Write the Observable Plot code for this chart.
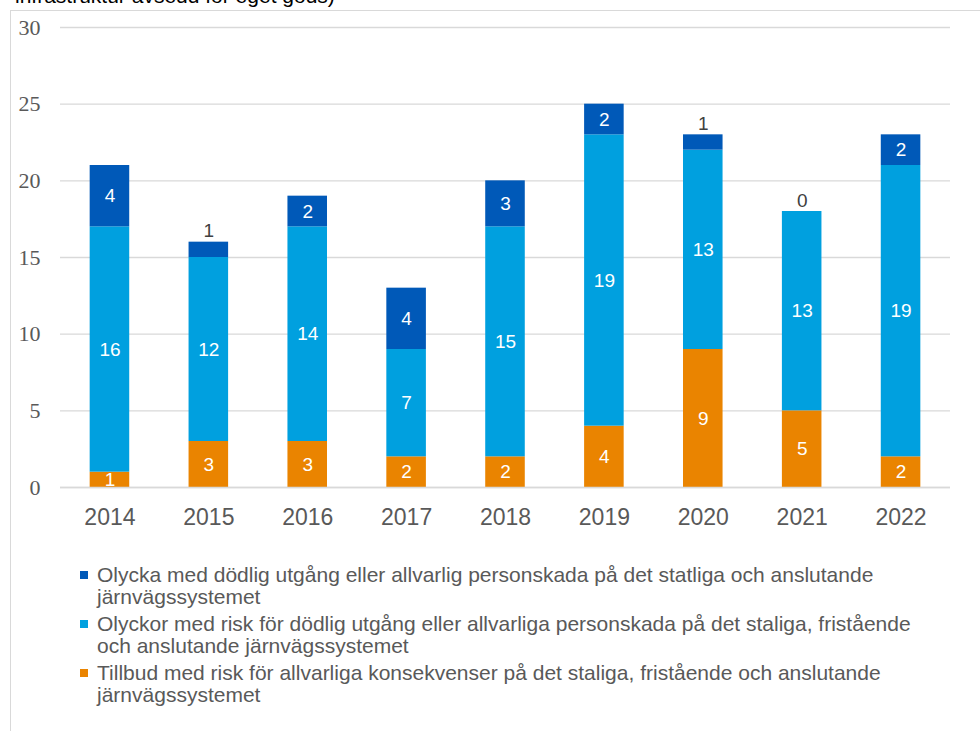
<!DOCTYPE html>
<html>
<head>
<meta charset="utf-8">
<script src="https://cdn.jsdelivr.net/npm/d3@7"></script>
<script src="https://cdn.jsdelivr.net/npm/@observablehq/plot@0.6"></script>
<style>
  html, body { margin: 0; padding: 0; background: #fff; }
  #wrap { position: relative; width: 980px; height: 731px; overflow: hidden; font-family: "Liberation Sans", Arial, sans-serif; }
  #frame { position: absolute; left: 10px; top: 10px; width: 980px; height: 740px; border-left: 1px solid #d9d9d9; border-top: 1px solid #d9d9d9; }
  #toptext { position: absolute; left: 15px; top: -15px; font-size: 21px; line-height: 21px; color: #000; white-space: nowrap; }
  #chart { position: absolute; left: 0; top: 0; }
  #legend { position: absolute; left: 80px; top: 564px; font-size: 21px; line-height: 22px; color: #595959; }
  .item { position: relative; padding-left: 17px; margin-bottom: 5px; white-space: nowrap; }
  .sw { position: absolute; left: 0; top: 7px; width: 8px; height: 8px; }
</style>
</head>
<body>
<div id="wrap">
  <div id="frame"></div>
  <div id="toptext">infrastruktur avsedd för eget gods)</div>
  <div id="chart"></div>
  <div id="legend"></div>
</div>
<script>
const years = ["2014", "2015", "2016", "2017", "2018", "2019", "2020", "2021", "2022"];
const tillbud = [1, 3, 3, 2, 2, 4, 9, 5, 2];
const olyckorRisk = [16, 12, 14, 7, 15, 19, 13, 13, 19];
const olyckaDodlig = [4, 1, 2, 4, 3, 2, 1, 0, 2];
const yTicks = [0, 5, 10, 15, 20, 25, 30];

const seriesNames = [
  "Tillbud med risk för allvarliga konsekvenser på det staliga, fristående och anslutande järnvägssystemet",
  "Olyckor med risk för dödlig utgång eller allvarliga personskada på det staliga, fristående och anslutande järnvägssystemet",
  "Olycka med dödlig utgång eller allvarlig personskada på det statliga och anslutande järnvägssystemet"
];
const seriesColors = ["#EA8400", "#00A0DF", "#0059B8"];
const seriesValues = [tillbud, olyckorRisk, olyckaDodlig];

// Legend display (top to bottom), with line breaks as in reference
const legendLines = [
  ["Olycka med dödlig utgång eller allvarlig personskada på det statliga och anslutande", "järnvägssystemet"],
  ["Olyckor med risk för dödlig utgång eller allvarliga personskada på det staliga, fristående", "och anslutande järnvägssystemet"],
  ["Tillbud med risk för allvarliga konsekvenser på det staliga, fristående och anslutande", "järnvägssystemet"]
];
const legendOrder = [2, 1, 0];

const data = [];
years.forEach((yr, i) => {
  seriesNames.forEach((s, k) => {
    data.push({year: yr, series: s, value: seriesValues[k][i], top: k === 2});
  });
});
const totals = years.map((yr, i) => ({year: yr, total: tillbud[i] + olyckorRisk[i] + olyckaDodlig[i], top: olyckaDodlig[i]}));

const chart = Plot.plot({
  width: 980,
  height: 540,
  marginLeft: 60,
  marginRight: 30,
  marginTop: 27,
  marginBottom: 53,
  style: {background: "transparent", overflow: "visible"},
  x: {domain: years, paddingInner: 0.6, paddingOuter: 0.3, round: false, label: null},
  y: {domain: [0, 30], label: null},
  color: {domain: seriesNames, range: seriesColors},
  marks: [
    Plot.gridY(yTicks, {stroke: "#d9d9d9", strokeOpacity: 1, strokeWidth: 1.3}),
    Plot.barY(data, {x: "year", y: "value", fill: "series"}),
    Plot.ruleY([0], {stroke: "#d9d9d9", strokeWidth: 1.5}),
    Plot.text(data, Plot.stackY({
      x: "year", y: "value", z: "series",
      text: d => String(d.value),
      filter: d => !(d.top && d.value <= 1),
      fill: "white", fontSize: 19, fontFamily: "Liberation Sans"
    })),
    Plot.text(totals.filter(d => d.top <= 1), {
      x: "year", y: "total", text: d => String(d.top), dy: -11,
      fill: "#404040", fontSize: 19, fontFamily: "Liberation Sans"
    }),
    Plot.axisY(yTicks, {tickSize: 0, tickPadding: 20, fontSize: 22, fontFamily: "Liberation Serif", fill: "#595959", label: null}),
    Plot.axisX({tickSize: 0, tickPadding: 21, fontSize: 23, fontFamily: "Liberation Sans", fill: "#595959", label: null})
  ]
});
document.getElementById("chart").appendChild(chart);

const legend = document.getElementById("legend");
legendOrder.forEach((k, j) => {
  const item = document.createElement("div");
  item.className = "item";
  const sw = document.createElement("span");
  sw.className = "sw";
  sw.style.background = seriesColors[k];
  item.appendChild(sw);
  legendLines[j].forEach((line, li) => {
    if (li > 0) item.appendChild(document.createElement("br"));
    item.appendChild(document.createTextNode(line));
  });
  legend.appendChild(item);
});
</script>
</body>
</html>
